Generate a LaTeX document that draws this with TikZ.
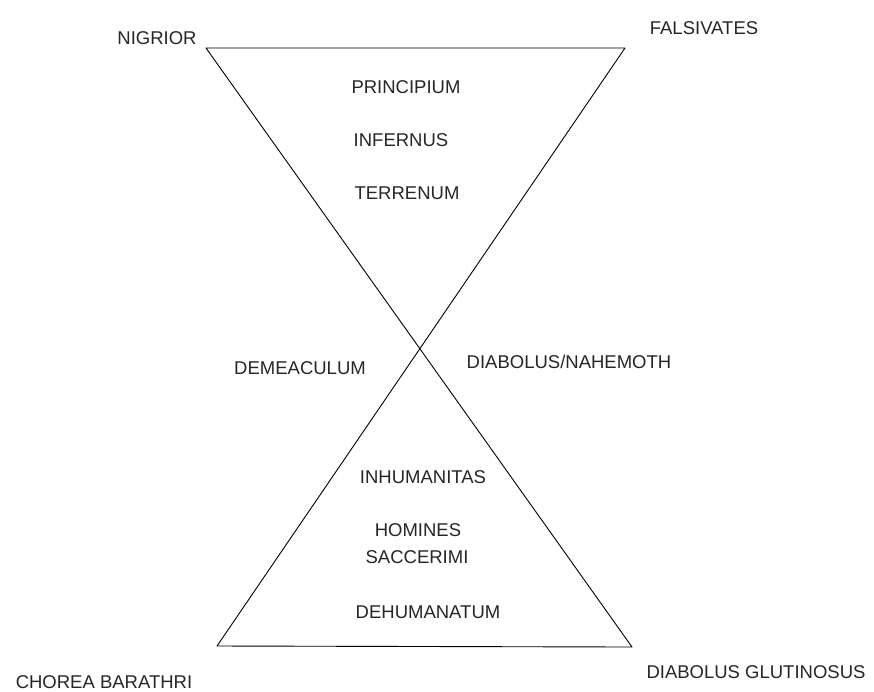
\documentclass[tikz,border=0pt]{standalone}
\usepackage{fontspec}
\setmainfont{Liberation Sans}
\begin{document}
\begin{tikzpicture}[x=1pt,y=-1pt,
  lbl/.style={inner sep=0pt, anchor=center, font=\fontsize{18.5}{21}\selectfont, text=black!85},
  edge/.style={draw=black, line width=0.9pt, line join=round}]
\useasboundingbox (0,0) rectangle (874,691);
\coordinate (tl) at (206,48);
\coordinate (tr) at (625,48);
\coordinate (bl) at (217,646);
\coordinate (br) at (632,647);
\draw[edge] (tl) -- (tr) -- (bl) -- (br) -- cycle;
\node[lbl] (nig) at (157,38) {NIGRIOR};
\node[lbl] (fal) at (704,28) {FALSIVATES};
\node[lbl] (pri) at (406,87) {PRINCIPIUM};
\node[lbl] (inf) at (401,140) {INFERNUS};
\node[lbl] (ter) at (407,193) {TERRENUM};
\node[lbl] (dem) at (300,368) {DEMEACULUM};
\node[lbl] (dia) at (569,362) {DIABOLUS/NAHEMOTH};
\node[lbl] (inh) at (423,477) {INHUMANITAS};
\node[lbl] (hom) at (418,530) {HOMINES};
\node[lbl] (sac) at (417,557) {SACCERIMI};
\node[lbl] (deh) at (428,612) {DEHUMANATUM};
\node[lbl] (cho) at (104,682) {CHOREA BARATHRI};
\node[lbl] (glu) at (756,672) {DIABOLUS GLUTINOSUS};
\end{tikzpicture}
\end{document}
